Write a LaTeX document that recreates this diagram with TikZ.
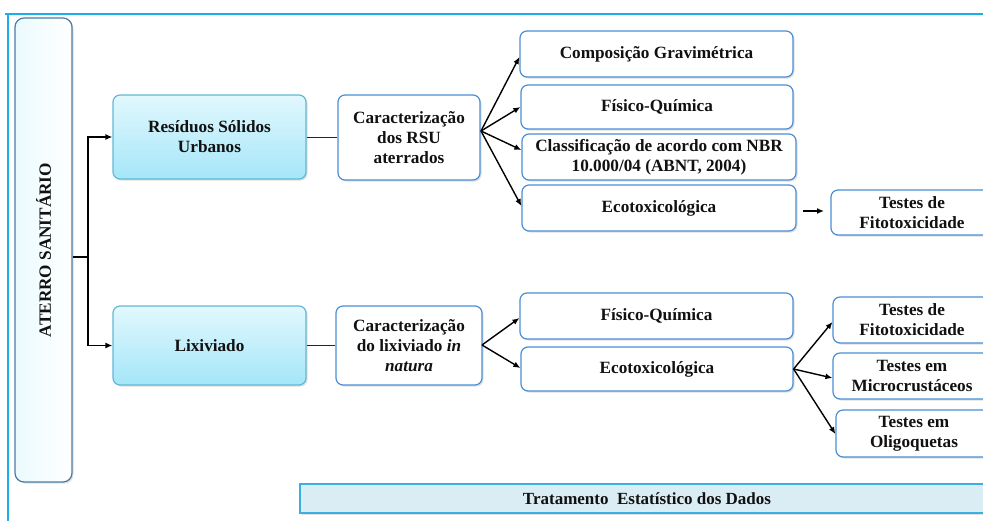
\documentclass[tikz,border=0pt]{standalone}
\usepackage{fontspec}
\setmainfont{Liberation Serif}
\usetikzlibrary{arrows.meta,shadows}
\definecolor{frameC}{HTML}{1AAFE6}
\definecolor{bordDark}{HTML}{4A7CA6}
\definecolor{bordCyan}{HTML}{62B8D6}
\definecolor{bordBlue}{HTML}{4A8ED6}
\definecolor{fillTop}{HTML}{E2F8FE}
\definecolor{fillBot}{HTML}{A4E6F8}
\definecolor{tratFill}{HTML}{DAEDF4}
\definecolor{tratBord}{HTML}{3BB0E0}
\definecolor{txtC}{HTML}{111111}
\tikzset{
  base/.style={rounded corners=7pt, align=center, text=txtC, font=\bfseries\fontsize{17.2}{20}\selectfont, inner sep=2pt,
    drop shadow={opacity=0.25, shadow xshift=1.5pt, shadow yshift=-1.5pt}},
  mainbox/.style={base, draw=bordCyan, line width=1.2pt, top color=fillTop, bottom color=fillBot},
  whitebox/.style={base, draw=bordBlue, line width=1.2pt, fill=white},
  sidebox/.style={base, rounded corners=9pt, draw=bordDark, line width=1.2pt, left color=fillTop!70, right color=white},
  conn/.style={line width=1.4pt, black},
  thinconn/.style={line width=1pt, black!85},
  arr/.style={conn, -{Latex[length=7pt,width=6pt]}},
}
\begin{document}
\begin{tikzpicture}[x=1pt,y=-1pt]
\useasboundingbox (0,0) rectangle (983,520);
\clip (0,0) rectangle (983,520);
% frame
\draw[frameC, line width=2pt] (5,14) -- (990,14);
\draw[frameC, line width=2pt] (8,14) -- (8,525);
% nodes
\node[sidebox, minimum width=57pt, minimum height=464pt] (aterro) at (43.5,250) {};
\node[rotate=90, text=txtC, font=\bfseries\fontsize{17.2}{20}\selectfont] (aterrotxt) at (43.5,250) {ATERRO SANITÁRIO};
\node[mainbox, minimum width=193pt, minimum height=84pt] (rsu) at (209.5,137) {Resíduos Sólidos\\Urbanos};
\node[mainbox, minimum width=193pt, minimum height=79pt] (lix) at (209.5,345.5) {Lixiviado};
\node[whitebox, minimum width=142pt, minimum height=85pt] (carrsu) at (409,137.5) {Caracterização\\dos RSU\\aterrados};
\node[whitebox, minimum width=146pt, minimum height=79pt] (carlix) at (409,345.5) {Caracterização\\do lixiviado \textit{in}\\\textit{natura}};
\node[whitebox, minimum width=273pt, minimum height=46pt] (comp) at (656.5,54) {Composição Gravimétrica};
\node[whitebox, minimum width=272pt, minimum height=44pt] (fqa) at (657,107) {Físico-Química};
\node[whitebox, minimum width=274pt, minimum height=46pt] (class) at (659,157) {Classificação de acordo com NBR\\10.000/04 (ABNT, 2004)};
\node[whitebox, minimum width=274pt, minimum height=46pt] (ecoa) at (659,208) {Ecotoxicológica};
\node[whitebox, minimum width=162pt, minimum height=45pt] (fitoa) at (912,212.5) {Testes de\\Fitotoxicidade};
\node[whitebox, minimum width=273pt, minimum height=46pt] (fqb) at (656.5,316) {Físico-Química};
\node[whitebox, minimum width=272pt, minimum height=44pt] (ecob) at (657,369) {Ecotoxicológica};
\node[whitebox, minimum width=158pt, minimum height=46pt] (fitob) at (912,320) {Testes de\\Fitotoxicidade};
\node[whitebox, minimum width=158pt, minimum height=46pt] (micro) at (912,376) {Testes em\\Microcrustáceos};
\node[whitebox, minimum width=156pt, minimum height=47pt] (oligo) at (914,433.5) {Testes em\\Oligoquetas};
\node[draw=tratBord, line width=1.5pt, fill=tratFill, minimum width=700pt, minimum height=29pt,
  text=txtC, font=\bfseries\fontsize{17}{20}\selectfont,
  drop shadow={opacity=0.25, shadow xshift=1.5pt, shadow yshift=-1.5pt}] (trat) at (650,498.5) {};
\node[text=txtC, font=\bfseries\fontsize{17}{20}\selectfont] (trattxt) at (647,498.5) {Tratamento\ \ Estatístico dos Dados};
% connectors
\coordinate (jA) at (88,257);
\draw[conn] (aterro.east |- jA) -- (jA);
\draw[arr] (jA) |- (rsu.west);
\draw[arr] (jA) |- (lix.west);
\draw[thinconn] (rsu.east) -- (carrsu.west |- rsu.east);
\draw[thinconn] (lix.east) -- (carlix.west |- lix.east);
\coordinate (fA) at (481,131);
\draw[arr] (fA) -- (comp.west |- 0,57);
\draw[arr] (fA) -- (fqa.west |- 0,107);
\draw[arr] (fA) -- (class.west |- 0,150);
\draw[arr] (fA) -- (ecoa.west |- 0,206);
\coordinate (sA) at (803,211);
\coordinate (sB) at (824,211);
\draw[arr] (sA) -- (sB);
\coordinate (fB) at (482,345);
\draw[arr] (fB) -- (fqb.west |- 0,318);
\draw[arr] (fB) -- (ecob.west |- 0,368);
\coordinate (fC) at (ecob.east);
\draw[arr] (fC) -- (fitob.west |- 0,322);
\draw[arr] (fC) -- (micro.west |- 0,378);
\draw[arr] (fC) -- (oligo.west |- 0,434);
\end{tikzpicture}
\end{document}
